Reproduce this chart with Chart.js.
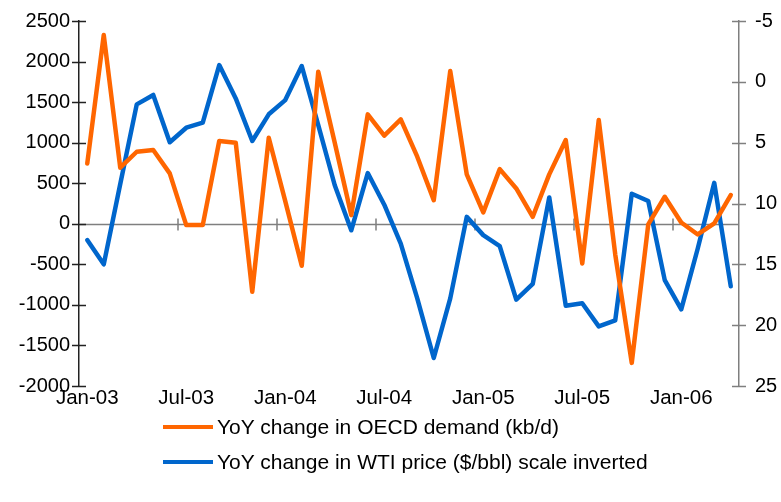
<!DOCTYPE html>
<html lang="en">
<head>
    <meta charset="UTF-8">
    <title>OECD demand vs WTI price</title>
    <script src="https://cdn.jsdelivr.net/npm/chart.js@4.4.1/dist/chart.umd.min.js"></script>
    <style>
        html, body {
            margin: 0;
            padding: 0;
            background: #fff;
        }
        .wrap {
            position: relative;
            width: 781px;
            height: 502px;
            font-family: "Liberation Sans", Arial, sans-serif;
        }
        #chart {
            position: absolute;
            left: 0;
            top: 0;
        }
        .legend-row {
            position: absolute;
            left: 163px;
            height: 24px;
            display: flex;
            align-items: center;
            font-size: 21px;
            color: #000;
            white-space: nowrap;
        }
        .legend-row .swatch {
            width: 50px;
            height: 4px;
            margin-right: 4px;
        }
    </style>
</head>
<body>
    <div class="wrap">
        <canvas id="chart" width="781" height="502"></canvas>
        <div class="legend-row" style="top: 415px;">
            <span class="swatch" style="background: #ff6600;"></span>YoY change in OECD demand (kb/d)
        </div>
        <div class="legend-row" style="top: 450px;">
            <span class="swatch" style="background: #0066cc;"></span>YoY change in WTI price ($/bbl) scale inverted
        </div>
    </div>

    <script>
        // monthly categories, Jan-03 .. Apr-06
        const months = [
            'Jan-03', 'Feb-03', 'Mar-03', 'Apr-03', 'May-03', 'Jun-03', 'Jul-03', 'Aug-03', 'Sep-03', 'Oct-03', 'Nov-03', 'Dec-03',
            'Jan-04', 'Feb-04', 'Mar-04', 'Apr-04', 'May-04', 'Jun-04', 'Jul-04', 'Aug-04', 'Sep-04', 'Oct-04', 'Nov-04', 'Dec-04',
            'Jan-05', 'Feb-05', 'Mar-05', 'Apr-05', 'May-05', 'Jun-05', 'Jul-05', 'Aug-05', 'Sep-05', 'Oct-05', 'Nov-05', 'Dec-05',
            'Jan-06', 'Feb-06', 'Mar-06', 'Apr-06'
        ];

        // YoY change in OECD demand, kb/d (left axis)
        const oecdDemand = [
            744, 2327, 691, 888, 909, 621, -16, -16, 1020, 999, -839, 1061,
            280, -518, 1875, 1000, 107, 1349, 1086, 1287, 827, 292, 1883, 609,
            140, 674, 436, 86, 609, 1032, -489, 1279, -380, -1715, -8, 333,
            16, -132, 4, 354
        ];

        // YoY change in WTI price, $/bbl (right axis, inverted)
        const wtiChange = [
            13.0, 15.0, 8.4, 1.85, 1.08, 4.97, 3.77, 3.36, -1.38, 1.36, 4.86, 2.67,
            1.5, -1.3, 3.55, 8.5, 12.2, 7.5, 10.1, 13.3, 17.8, 22.7, 17.8, 11.1,
            12.6, 13.5, 17.9, 16.6, 9.5, 18.4, 18.2, 20.1, 19.6, 9.2, 9.8, 16.3,
            18.7, 13.7, 8.3, 16.8
        ];

        const FAMILY = '"Liberation Sans", Arial, sans-serif';

        // zero line with half-year tick marks, plus cross ticks on both value axes
        const axisDecor = {
            id: 'axisDecor',
            beforeDatasetsDraw(chart) {
                const { ctx, chartArea, scales } = chart;
                const x = scales.x, yL = scales.y, yR = scales.y2;
                const zeroY = Math.round(yL.getPixelForValue(0)) + 0.5;
                const step = x.getPixelForValue(1) - x.getPixelForValue(0);

                ctx.save();
                ctx.lineWidth = 1.5;
                ctx.strokeStyle = '#7f7f7f';
                ctx.beginPath();
                ctx.moveTo(chartArea.left, zeroY);
                ctx.lineTo(chartArea.right, zeroY);
                for (let i = 6; i < months.length; i += 6) {
                    const px = x.getPixelForValue(i) - step / 2;
                    ctx.moveTo(px, zeroY - 6);
                    ctx.lineTo(px, zeroY + 6);
                }
                ctx.stroke();

                ctx.strokeStyle = '#222';
                ctx.beginPath();
                yL.ticks.forEach(t => {
                    const py = Math.round(yL.getPixelForValue(t.value)) + 0.5;
                    ctx.moveTo(chartArea.left - 7, py);
                    ctx.lineTo(chartArea.left + 7, py);
                });
                ctx.stroke();

                ctx.strokeStyle = '#7f7f7f';
                ctx.beginPath();
                yR.ticks.forEach(t => {
                    const py = Math.round(yR.getPixelForValue(t.value)) + 0.5;
                    ctx.moveTo(chartArea.right - 7, py);
                    ctx.lineTo(chartArea.right + 7, py);
                });
                ctx.stroke();
                ctx.restore();
            }
        };

        const fitY = width => s => {
            s.width = width;
            s.paddingTop = 0;
            s.paddingBottom = 0;
        };

        new Chart(document.getElementById('chart'), {
            type: 'line',
            data: {
                labels: months,
                datasets: [
                    {
                        label: 'YoY change in OECD demand (kb/d)',
                        data: oecdDemand,
                        yAxisID: 'y',
                        borderColor: '#ff6600',
                        borderWidth: 4.5,
                        pointRadius: 0,
                        tension: 0,
                        borderJoinStyle: 'round',
                        borderCapStyle: 'round'
                    },
                    {
                        label: 'YoY change in WTI price ($/bbl) scale inverted',
                        data: wtiChange,
                        yAxisID: 'y2',
                        borderColor: '#0066cc',
                        borderWidth: 4.5,
                        pointRadius: 0,
                        tension: 0,
                        borderJoinStyle: 'round',
                        borderCapStyle: 'round'
                    }
                ]
            },
            options: {
                responsive: false,
                animation: false,
                devicePixelRatio: 1,
                layout: { padding: { top: 21, left: 0, right: 0, bottom: 0 } },
                plugins: {
                    legend: { display: false },
                    tooltip: { enabled: false }
                },
                scales: {
                    x: {
                        offset: true,
                        grid: { display: false, drawTicks: false },
                        border: { display: false },
                        ticks: {
                            autoSkip: false,
                            maxRotation: 0,
                            padding: 0,
                            color: '#000',
                            font: { family: FAMILY, size: 20.5 },
                            callback: (v, i) => (i % 6 === 0 ? months[i] : '')
                        },
                        afterFit: s => { s.height = 116; }
                    },
                    y: {
                        position: 'left',
                        min: -2000,
                        max: 2500,
                        grid: { display: false, drawTicks: false },
                        border: { display: true, color: '#222', width: 1.5 },
                        ticks: {
                            stepSize: 500, padding: 9, color: '#000',
                            font: { family: FAMILY, size: 20 },
                            callback: v => String(v)
                        },
                        afterFit: fitY(79)
                    },
                    y2: {
                        position: 'right',
                        min: -5,
                        max: 25,
                        reverse: true,
                        grid: { display: false, drawTicks: false },
                        border: { display: true, color: '#7f7f7f', width: 1.5 },
                        ticks: {
                            stepSize: 5, padding: 16, color: '#000',
                            font: { family: FAMILY, size: 20 },
                            callback: v => String(v)
                        },
                        afterFit: fitY(42)
                    }
                }
            },
            plugins: [axisDecor]
        });
    </script>
</body>
</html>
